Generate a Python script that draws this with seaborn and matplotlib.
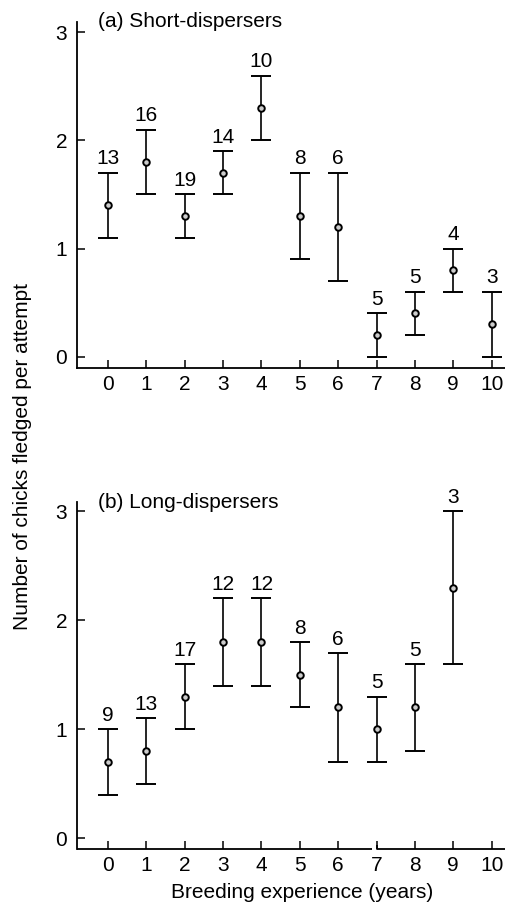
import matplotlib
matplotlib.use("Agg")
import matplotlib.pyplot as plt
import matplotlib.transforms as mtransforms
import numpy as np
import pandas as pd
import seaborn as sns

# ---- data ----
years_a = [0, 1, 2, 3, 4, 5, 6, 7, 8, 9, 10]
mean_a = [1.4, 1.8, 1.3, 1.7, 2.3, 1.3, 1.2, 0.2, 0.4, 0.8, 0.3]
upper_a = [1.7, 2.1, 1.5, 1.9, 2.6, 1.7, 1.7, 0.4, 0.6, 1.0, 0.6]
lower_a = [1.1, 1.5, 1.1, 1.5, 2.0, 0.9, 0.7, 0.0, 0.2, 0.6, 0.0]
n_a = [13, 16, 19, 14, 10, 8, 6, 5, 5, 4, 3]

years_b = [0, 1, 2, 3, 4, 5, 6, 7, 8, 9]
mean_b = [0.7, 0.8, 1.3, 1.8, 1.8, 1.5, 1.2, 1.0, 1.2, 2.3]
upper_b = [1.0, 1.1, 1.6, 2.2, 2.2, 1.8, 1.7, 1.3, 1.6, 3.0]
lower_b = [0.4, 0.5, 1.0, 1.4, 1.4, 1.2, 0.7, 0.7, 0.8, 1.6]
n_b = [9, 13, 17, 12, 12, 8, 6, 5, 5, 3]

xticks = list(range(0, 11))
yticks = [0, 1, 2, 3]
titles = ["(a) Short-dispersers", "(b) Long-dispersers"]

sns.set_theme(style="ticks")
plt.rcParams["font.family"] = ["Liberation Sans", "DejaVu Sans"]

FS = 15

fig = plt.figure(figsize=(5.05, 9.05), dpi=100)
ax_a = fig.add_axes([0.1525, 0.5934, 0.8475, 0.3823])
ax_b = fig.add_axes([0.1525, 0.0619, 0.8475, 0.3834])

panels = [
    (ax_a, years_a, mean_a, upper_a, lower_a, n_a, titles[0], (-0.105, 3.095), False),
    (ax_b, years_b, mean_b, upper_b, lower_b, n_b, titles[1], (-0.098, 3.085), True),
]

for ax, yrs, mn, up, lo, n, title, ylim, brk in panels:
    df = pd.DataFrame({"year": yrs, "mean": mn, "upper": up, "lower": lo, "n": n})
    yerr = np.vstack([df["mean"] - df["lower"], df["upper"] - df["mean"]])
    ax.errorbar(df["year"], df["mean"], yerr=yerr, fmt="none", ecolor="black",
                elinewidth=1.2, capsize=7.5, capthick=1.4, zorder=2)
    sns.scatterplot(data=df, x="year", y="mean", ax=ax, marker="o", s=22,
                    facecolor="#cccccc", edgecolor="black", linewidth=1.4,
                    zorder=3, legend=False)
    for x, u, k in zip(df["year"], df["upper"], df["n"]):
        ax.annotate(str(k), (x, u), xytext=(0, 6), textcoords="offset points",
                    ha="center", va="baseline", fontsize=FS, color="black")
    ax.set_xlim(-0.81, 10.35)
    ax.set_ylim(*ylim)
    ax.set_xticks(xticks)
    ax.set_yticks(yticks)
    ax.set_xlabel("")
    ax.set_ylabel("")
    ax.tick_params(axis="both", direction="in", length=6, width=1.1,
                   labelsize=FS, colors="black")
    ax.tick_params(axis="x", pad=5)
    ax.tick_params(axis="y", pad=7)
    for s in ["top", "right"]:
        ax.spines[s].set_visible(False)
    ax.spines["left"].set_linewidth(1.3)
    ax.spines["left"].set_color("black")
    ax.text(0.05, 1.0, title, transform=ax.transAxes, ha="left", va="center",
            fontsize=FS, color="black")
    if brk:
        ax.spines["bottom"].set_visible(False)
        trans = mtransforms.blended_transform_factory(ax.transData, ax.transAxes)
        ax.plot([-0.81, 6.88], [0, 0], color="black", lw=1.3, transform=trans,
                clip_on=False, solid_capstyle="butt")
        ax.plot([7.0, 7.0, 10.35], [0.012, 0, 0], color="black", lw=1.3,
                transform=trans, clip_on=False, solid_capstyle="butt")
    else:
        ax.spines["bottom"].set_linewidth(1.3)
        ax.spines["bottom"].set_color("black")

fig.text(0.045, 0.4956, "Number of chicks fledged per attempt", rotation=90,
         ha="center", va="center", fontsize=FS, color="black")
fig.text(0.599, 0.0077, "Breeding experience (years)", ha="center",
         va="baseline", fontsize=FS, color="black")

fig.savefig("out.png", dpi=100)
